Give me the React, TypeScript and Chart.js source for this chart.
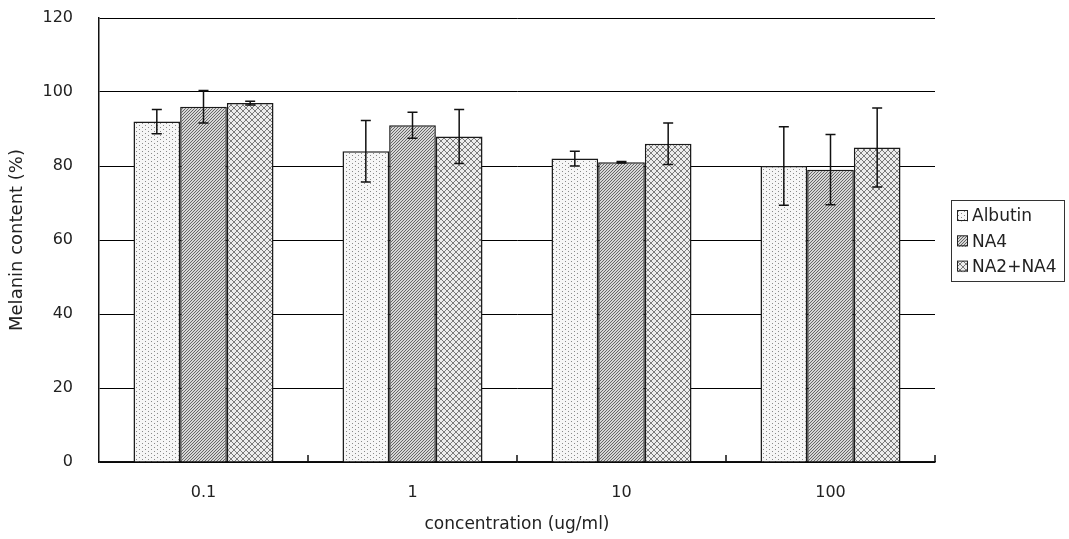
import React, { useEffect, useRef } from 'react';
import { Chart, registerables } from 'chart.js';

Chart.register(...registerables);

const categories = ['0.1', '1', '10', '100'];
const seriesNames = ['Albutin', 'NA4', 'NA2+NA4'];
const albutin = [92, 84, 82, 80];
const albutinErr = [3.3, 8.3, 2.0, 10.6];
const na4 = [96, 91, 81, 79];
const na4Err = [4.4, 3.5, 0.2, 9.5];
const na2na4 = [97, 88, 86, 85];
const na2na4Err = [0.5, 7.3, 5.6, 10.7];
const yMin = 0;
const yMax = 120;
const yStep = 20;
const xTitle = 'concentration (ug/ml)';
const yTitle = 'Melanin content (%)';

const errorSets = [albutinErr, na4Err, na2na4Err];
const FONT = "'DejaVu Sans', 'Liberation Sans', sans-serif";

function makePattern(kind: string): CanvasPattern | string {
  const c = document.createElement('canvas');
  const px = (ctx: CanvasRenderingContext2D, x: number, y: number) => ctx.fillRect(x, y, 1, 1);
  if (kind === 'dots') {
    c.width = 6; c.height = 4;
    const ctx = c.getContext('2d')!;
    ctx.fillStyle = '#f6f6f6'; ctx.fillRect(0, 0, 6, 4);
    ctx.fillStyle = '#8a8a8a';
    px(ctx, 1, 1); px(ctx, 4, 3);
    return ctx.createPattern(c, 'repeat')!;
  }
  if (kind === 'diag') {
    c.width = 3; c.height = 3;
    const ctx = c.getContext('2d')!;
    ctx.fillStyle = '#d6d6d6'; ctx.fillRect(0, 0, 3, 3);
    ctx.fillStyle = '#666';
    px(ctx, 2, 0); px(ctx, 1, 1); px(ctx, 0, 2);
    return ctx.createPattern(c, 'repeat')!;
  }
  c.width = 6; c.height = 6;
  const ctx = c.getContext('2d')!;
  ctx.fillStyle = '#ececec'; ctx.fillRect(0, 0, 6, 6);
  ctx.fillStyle = '#7a7a7a';
  for (let i = 0; i < 6; i++) { px(ctx, i, i); px(ctx, 5 - i, i); }
  return ctx.createPattern(c, 'repeat')!;
}

const errorBarPlugin = {
  id: 'errorBars',
  afterDatasetsDraw(chart: any) {
    const ctx = chart.ctx;
    const y = chart.scales.y;
    chart.data.datasets.forEach((ds: any, di: number) => {
      const meta = chart.getDatasetMeta(di);
      const errs = errorSets[di];
      meta.data.forEach((bar: any, i: number) => {
        const v = ds.data[i];
        const e = errs[i];
        const yTop = y.getPixelForValue(v + e);
        const yBot = y.getPixelForValue(v - e);
        const x = bar.x;
        ctx.save();
        ctx.strokeStyle = '#111';
        ctx.lineWidth = 1.5;
        ctx.beginPath();
        ctx.moveTo(x, yTop); ctx.lineTo(x, yBot);
        ctx.moveTo(x - 5, yTop); ctx.lineTo(x + 5, yTop);
        ctx.moveTo(x - 5, yBot); ctx.lineTo(x + 5, yBot);
        ctx.stroke();
        ctx.restore();
      });
    });
  },
};

const innerTickPlugin = {
  id: 'innerTicks',
  afterDraw(chart: any) {
    const ctx = chart.ctx;
    const xs = chart.scales.x;
    const area = chart.chartArea;
    const pos: number[] = [];
    for (let i = 1; i < categories.length; i++) {
      pos.push((xs.getPixelForValue(i - 1) + xs.getPixelForValue(i)) / 2);
    }
    pos.push(area.right);
    ctx.save();
    ctx.strokeStyle = '#111';
    ctx.lineWidth = 1.5;
    ctx.beginPath();
    pos.forEach((x) => { ctx.moveTo(x, area.bottom); ctx.lineTo(x, area.bottom - 7); });
    ctx.stroke();
    ctx.restore();
  },
};

const boxLegendPlugin = {
  id: 'boxLegend',
  afterDraw(chart: any) {
    const ctx = chart.ctx;
    const left = 951, top = 200, w = 113, h = 81;
    ctx.save();
    ctx.fillStyle = '#fff';
    ctx.fillRect(left, top, w, h);
    ctx.strokeStyle = '#333';
    ctx.lineWidth = 1;
    ctx.strokeRect(left + 0.5, top + 0.5, w, h);
    chart.data.datasets.forEach((ds: any, i: number) => {
      const cy = top + 16 + i * 25.3;
      ctx.fillStyle = ds.backgroundColor;
      ctx.fillRect(957, cy - 5.5, 11, 11);
      ctx.strokeStyle = '#222';
      ctx.strokeRect(957.5, cy - 5.5, 10, 10);
      ctx.fillStyle = '#222';
      ctx.font = `17px ${FONT}`;
      ctx.textBaseline = 'middle';
      ctx.textAlign = 'left';
      ctx.fillText(ds.label, 972, cy + 1);
    });
    ctx.restore();
  },
};

export default function App() {
  const ref = useRef<HTMLCanvasElement | null>(null);
  useEffect(() => {
    if (!ref.current) return;
    const fills = [makePattern('dots'), makePattern('diag'), makePattern('cross')];
    const values = [albutin, na4, na2na4];
    const chart = new Chart(ref.current, {
      type: 'bar',
      data: {
        labels: categories,
        datasets: seriesNames.map((name, i) => ({
          label: name,
          data: values[i],
          backgroundColor: fills[i] as any,
          borderColor: '#1a1a1a',
          borderWidth: 1.5,
          borderSkipped: 'start',
          categoryPercentage: 0.67,
          barPercentage: 1.0,
        })),
      },
      options: {
        responsive: false,
        animation: false,
        devicePixelRatio: 1,
        layout: { padding: { top: 18, right: 134, left: 0, bottom: 0 } },
        plugins: {
          legend: { display: false },
          tooltip: { enabled: false },
        },
        scales: {
          x: {
            grid: { display: false },
            border: { display: true, color: '#111', width: 1.5 },
            ticks: { color: '#222', font: { family: FONT, size: 16 }, padding: 13 },
            title: {
              display: true, text: xTitle, color: '#222',
              font: { family: FONT, size: 17 }, padding: { top: 0, bottom: 4 },
            },
            afterFit: (s: any) => { s.height = 77; s.paddingLeft = 0; s.paddingRight = 0; },
          },
          y: {
            min: yMin,
            max: yMax,
            ticks: { stepSize: yStep, color: '#222', font: { family: FONT, size: 16 }, padding: 26 },
            grid: { color: '#000', lineWidth: 1, drawTicks: false },
            border: { display: true, color: '#111', width: 1.5 },
            title: {
              display: true, text: yTitle, color: '#222',
              font: { family: FONT, size: 18 }, padding: { top: 7, bottom: 0 },
            },
            afterFit: (s: any) => { s.width = 99; s.paddingTop = 0; s.paddingBottom = 0; },
          },
        },
      },
      plugins: [errorBarPlugin, innerTickPlugin, boxLegendPlugin],
    });
    return () => chart.destroy();
  }, []);
  return (
    <canvas
      ref={ref}
      width={1069}
      height={539}
      style={{ position: 'fixed', left: 0, top: 0, width: 1069, height: 539, background: '#fff' }}
    />
  );
}
